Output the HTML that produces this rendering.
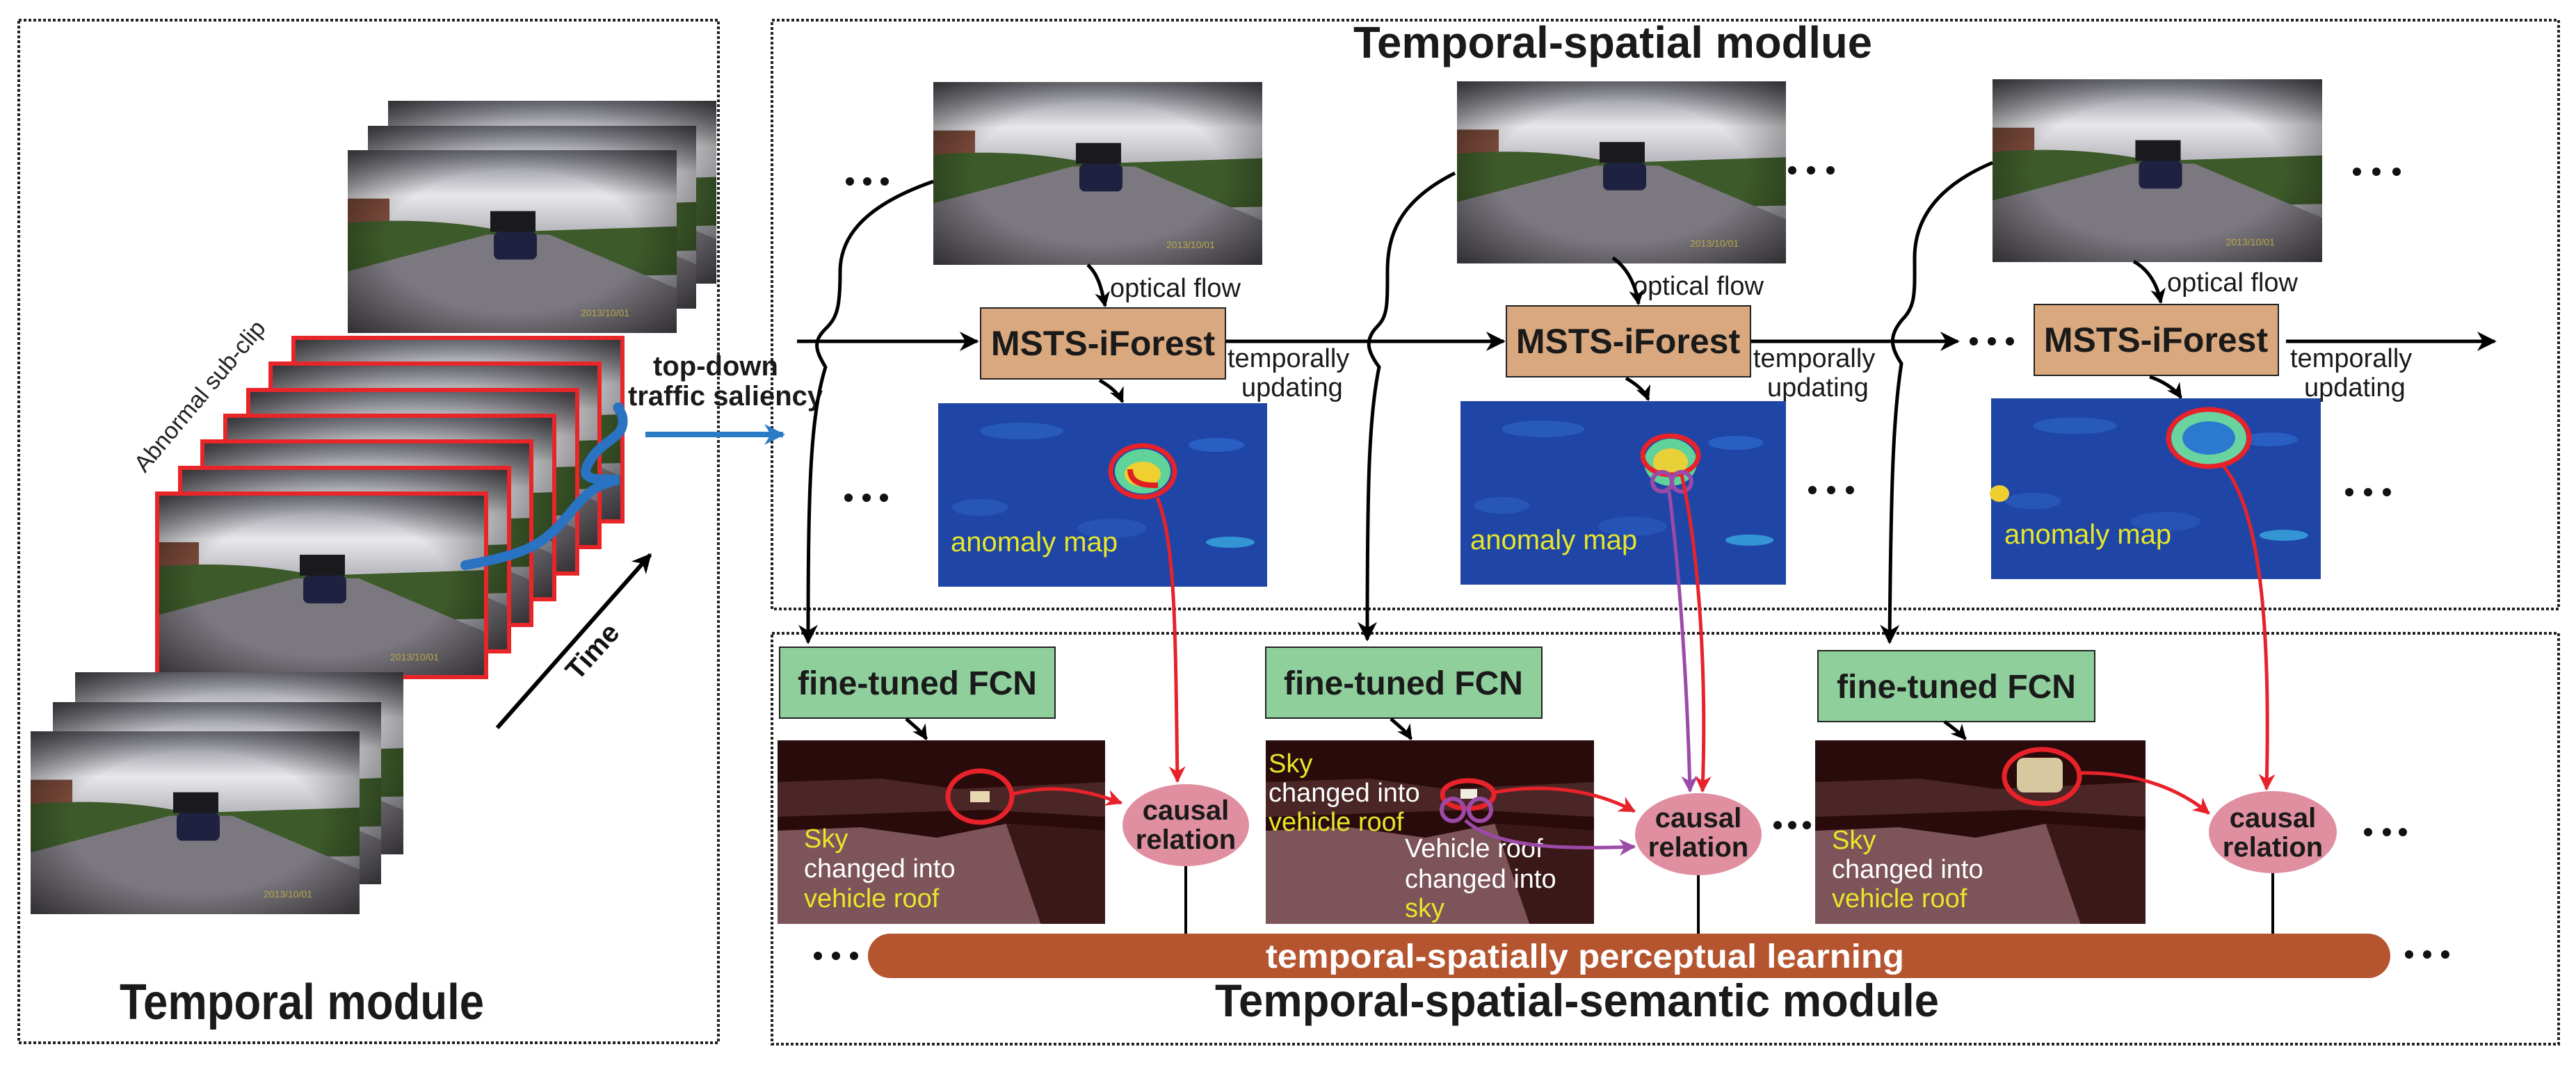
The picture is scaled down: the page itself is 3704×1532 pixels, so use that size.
<!DOCTYPE html>
<html><head><meta charset="utf-8"><style>
html,body{margin:0;padding:0;background:#fff;}
svg{display:block;}
text{font-family:"Liberation Sans",sans-serif;}
</style></head><body>
<svg width="3704" height="1532" viewBox="0 0 3704 1532" xmlns="http://www.w3.org/2000/svg">
<defs>
<linearGradient id="sky" x1="0" y1="0" x2="0" y2="1">
<stop offset="0" stop-color="#7a7a84"/><stop offset="0.25" stop-color="#e8e8ec"/><stop offset="0.42" stop-color="#bcbcc2"/><stop offset="1" stop-color="#8a8a90"/></linearGradient>
<radialGradient id="vig" cx="0.5" cy="0.5" r="0.7"><stop offset="0.55" stop-color="#000" stop-opacity="0"/><stop offset="1" stop-color="#000" stop-opacity="0.6"/></radialGradient>
<symbol id="frame" viewBox="0 0 473 264" preserveAspectRatio="none">
<rect width="473" height="264" fill="url(#sky)"/>
<rect x="0" y="70" width="60" height="45" fill="#7a4a3a"/>
<path d="M0 105 Q120 95 230 118 L473 110 L473 180 L0 190Z" fill="#3d5a2a"/>
<path d="M0 175 L200 122 L290 122 L473 200 L473 264 L0 264Z" fill="#7c7880"/>
<rect x="205" y="88" width="65" height="30" fill="#1a1a1e"/>
<rect x="210" y="118" width="62" height="40" rx="8" fill="#1e2240"/>
<rect x="0" y="0" width="473" height="264" fill="url(#vig)"/>
<text x="335" y="240" font-size="14" fill="#b8a84a">2013/10/01</text>
</symbol>
<symbol id="amap" viewBox="0 0 473 264" preserveAspectRatio="none">
<rect width="473" height="264" fill="#1f46a6"/>
<ellipse cx="120" cy="40" rx="60" ry="12" fill="#2b62c4" opacity="0.7"/>
<ellipse cx="400" cy="60" rx="40" ry="10" fill="#2e6ad0" opacity="0.7"/>
<ellipse cx="420" cy="200" rx="35" ry="8" fill="#39a9e0" opacity="0.8"/>
<ellipse cx="250" cy="180" rx="50" ry="14" fill="#2a58bc" opacity="0.7"/>
<ellipse cx="60" cy="150" rx="40" ry="12" fill="#2b5cbf" opacity="0.7"/>
</symbol>
<symbol id="seg" viewBox="0 0 473 264" preserveAspectRatio="none">
<rect width="473" height="264" fill="#2a0b0b"/>
<path d="M0 60 L150 55 L260 70 L473 60 L473 110 L300 100 L0 110Z" fill="#4a2626"/>
<path d="M0 130 L120 125 L230 140 L330 120 L473 130 L473 264 L0 264Z" fill="#7c545a"/>
<path d="M330 120 L473 130 L473 264 L380 264 Z" fill="#3a1818"/>
</symbol>
<marker id="ah" viewBox="0 0 10 10" refX="9" refY="5" markerWidth="26" markerHeight="22" orient="auto" markerUnits="userSpaceOnUse"><path d="M0 0 L10 5 L0 10 L3 5Z" fill="#000"/></marker>
<marker id="ahb" viewBox="0 0 10 10" refX="9" refY="5" markerWidth="36" markerHeight="28" orient="auto" markerUnits="userSpaceOnUse"><path d="M0 0 L10 5 L0 10 L3 5Z" fill="#000"/></marker>
<marker id="ahr" viewBox="0 0 10 10" refX="9" refY="5" markerWidth="30" markerHeight="24" orient="auto" markerUnits="userSpaceOnUse"><path d="M0 0 L10 5 L0 10 L3 5Z" fill="#e8222a"/></marker>
<marker id="ahp" viewBox="0 0 10 10" refX="9" refY="5" markerWidth="30" markerHeight="24" orient="auto" markerUnits="userSpaceOnUse"><path d="M0 0 L10 5 L0 10 L3 5Z" fill="#9c4aa8"/></marker>
<marker id="ahbl" viewBox="0 0 10 10" refX="9" refY="5" markerWidth="40" markerHeight="30" orient="auto" markerUnits="userSpaceOnUse"><path d="M0 0 L10 5 L0 10 L3 5Z" fill="#2a7cc4"/></marker>
</defs>

<rect x="27" y="29" width="1006" height="1471" fill="none" stroke="#222" stroke-width="4" stroke-dasharray="4,3"/>
<rect x="1110" y="29" width="2569" height="847" fill="none" stroke="#222" stroke-width="4" stroke-dasharray="4,3"/>
<rect x="1110" y="911" width="2569" height="591" fill="none" stroke="#222" stroke-width="4" stroke-dasharray="4,3"/>

<use href="#frame" x="558" y="145" width="472" height="263"/>
<use href="#frame" x="529" y="181" width="472" height="263"/>
<use href="#frame" x="500" y="216" width="473" height="263"/>
<use href="#frame" x="422" y="486" width="473" height="264"/><rect x="422" y="486" width="473" height="264" fill="none" stroke="#e8262a" stroke-width="6"/>
<use href="#frame" x="389" y="523" width="473" height="264"/><rect x="389" y="523" width="473" height="264" fill="none" stroke="#e8262a" stroke-width="6"/>
<use href="#frame" x="357" y="561" width="473" height="264"/><rect x="357" y="561" width="473" height="264" fill="none" stroke="#e8262a" stroke-width="6"/>
<use href="#frame" x="324" y="598" width="473" height="264"/><rect x="324" y="598" width="473" height="264" fill="none" stroke="#e8262a" stroke-width="6"/>
<use href="#frame" x="291" y="635" width="473" height="264"/><rect x="291" y="635" width="473" height="264" fill="none" stroke="#e8262a" stroke-width="6"/>
<use href="#frame" x="259" y="673" width="473" height="264"/><rect x="259" y="673" width="473" height="264" fill="none" stroke="#e8262a" stroke-width="6"/>
<use href="#frame" x="226" y="710" width="473" height="264"/><rect x="226" y="710" width="473" height="264" fill="none" stroke="#e8262a" stroke-width="6"/>
<use href="#frame" x="108" y="967" width="472" height="262"/>
<use href="#frame" x="76" y="1010" width="472" height="262"/>
<use href="#frame" x="44" y="1052" width="473" height="263"/>
<path d="M669 813 C740 800 770 790 800 760 C830 730 840 700 890 690 C850 690 830 690 850 660 C870 630 900 630 895 600 C893 590 885 585 890 586" fill="none" stroke="#2a72c2" stroke-width="14" stroke-linecap="round"/>
<line x1="928" y1="625" x2="1126" y2="625" stroke="#2a7cc4" stroke-width="8" marker-end="url(#ahbl)"/>
<text x="939" y="540" font-size="40" font-weight="bold" fill="#1a1a1a">top-down</text>
<text x="903" y="583" font-size="40" font-weight="bold" fill="#1a1a1a">traffic saliency</text>
<text x="296" y="577" font-size="34" fill="#222" text-anchor="middle" transform="rotate(-50 296 577)">Abnormal sub-clip</text>
<line x1="715" y1="1047" x2="935" y2="798" stroke="#000" stroke-width="6" marker-end="url(#ahb)"/>
<text x="853" y="950" font-size="40" font-weight="bold" fill="#111" text-anchor="middle" transform="rotate(-48 853 938)">Time</text>
<text x="172" y="1466" font-size="72" font-weight="bold" fill="#1a1a1a" textLength="524" lengthAdjust="spacingAndGlyphs">Temporal module</text>

<text x="1946" y="83" font-size="64" font-weight="bold" fill="#1a1a1a" textLength="746" lengthAdjust="spacingAndGlyphs">Temporal-spatial modlue</text>
<use href="#frame" x="1342" y="118" width="473" height="263"/>
<use href="#frame" x="2095" y="117" width="473" height="262"/>
<use href="#frame" x="2865" y="114" width="474" height="263"/>

<g fill="#111">
<circle cx="1222" cy="261" r="6"/><circle cx="1247" cy="261" r="6"/><circle cx="1272" cy="261" r="6"/>
<circle cx="2577" cy="245" r="6"/><circle cx="2604" cy="245" r="6"/><circle cx="2632" cy="245" r="6"/>
<circle cx="3389" cy="247" r="6"/><circle cx="3417" cy="247" r="6"/><circle cx="3446" cy="247" r="6"/>
<circle cx="1220" cy="716" r="6"/><circle cx="1246" cy="716" r="6"/><circle cx="1271" cy="716" r="6"/>
<circle cx="2606" cy="705" r="6"/><circle cx="2633" cy="705" r="6"/><circle cx="2660" cy="705" r="6"/>
<circle cx="3378" cy="708" r="6"/><circle cx="3405" cy="708" r="6"/><circle cx="3432" cy="708" r="6"/>
<circle cx="2838" cy="491" r="6"/><circle cx="2864" cy="491" r="6"/><circle cx="2890" cy="491" r="6"/>
<circle cx="2556" cy="1187" r="6"/><circle cx="2577" cy="1187" r="6"/><circle cx="2598" cy="1187" r="6"/>
<circle cx="3405" cy="1197" r="6"/><circle cx="3432" cy="1197" r="6"/><circle cx="3455" cy="1197" r="6"/>
<circle cx="1176" cy="1375" r="6"/><circle cx="1202" cy="1375" r="6"/><circle cx="1228" cy="1375" r="6"/>
<circle cx="3464" cy="1373" r="6"/><circle cx="3490" cy="1373" r="6"/><circle cx="3516" cy="1373" r="6"/>
</g>

<g stroke="#000" stroke-width="5" fill="none">
<line x1="1146" y1="491" x2="1405" y2="491" marker-end="url(#ahb)"/>
<line x1="1762" y1="491" x2="2162" y2="491" marker-end="url(#ahb)"/>
<line x1="2517" y1="491" x2="2815" y2="491" marker-end="url(#ahb)"/>
<line x1="3287" y1="491" x2="3587" y2="491" marker-end="url(#ahb)"/>
</g>

<g fill="#d9a87e" stroke="#222" stroke-width="2">
<rect x="1410" y="443" width="352" height="102"/>
<rect x="2166" y="440" width="351" height="102"/>
<rect x="2925" y="438" width="351" height="102"/>
</g>
<g font-size="50" font-weight="bold" fill="#1a1a1a" text-anchor="middle">
<text x="1586" y="511">MSTS-iForest</text>
<text x="2341" y="508">MSTS-iForest</text>
<text x="3100" y="506">MSTS-iForest</text>
</g>
<g font-size="38" fill="#1a1a1a">
<text x="1596" y="427">optical flow</text>
<text x="2348" y="424">optical flow</text>
<text x="3116" y="419">optical flow</text>
<text x="1765" y="528">temporally</text><text x="1785" y="570">updating</text>
<text x="2521" y="528">temporally</text><text x="2541" y="570">updating</text>
<text x="3293" y="528">temporally</text><text x="3313" y="570">updating</text>
</g>

<use href="#amap" x="1349" y="580" width="473" height="264"/>
<use href="#amap" x="2100" y="577" width="468" height="264"/>
<use href="#amap" x="2863" y="573" width="474" height="260"/>
<g>
<ellipse cx="1643" cy="678" rx="40" ry="32" fill="#5fd39a"/><ellipse cx="1643" cy="682" rx="26" ry="18" fill="#f0d030"/><path d="M1625 675 Q1625 700 1665 698" stroke="#e02020" stroke-width="8" fill="none"/>
<ellipse cx="2402" cy="665" rx="38" ry="34" fill="#5fd39a"/><ellipse cx="2402" cy="665" rx="25" ry="20" fill="#e8d038"/>
<ellipse cx="3176" cy="630" rx="54" ry="38" fill="#6ad4a0"/><ellipse cx="3176" cy="630" rx="38" ry="24" fill="#2c7ad0"/>
<ellipse cx="2875" cy="710" rx="14" ry="12" fill="#f0d030"/>
</g>
<g fill="none" stroke="#e8222a" stroke-width="7">
<ellipse cx="1643" cy="678" rx="46" ry="37"/>
<ellipse cx="2402" cy="655" rx="40" ry="28"/>
<ellipse cx="3176" cy="630" rx="58" ry="41"/>
</g>
<g fill="none" stroke="#9c4aa8" stroke-width="6"><circle cx="2390" cy="693" r="14"/><circle cx="2418" cy="693" r="14"/></g>
<g font-size="40" fill="#e6e62a">
<text x="1367" y="793">anomaly map</text>
<text x="2114" y="790">anomaly map</text>
<text x="2882" y="782">anomaly map</text>
</g>

<g fill="#8fcf9c" stroke="#222" stroke-width="2">
<rect x="1121" y="931" width="396" height="102"/>
<rect x="1820" y="931" width="397" height="102"/>
<rect x="2614" y="936" width="398" height="102"/>
</g>
<g font-size="48" font-weight="bold" fill="#1a1a1a" text-anchor="middle">
<text x="1319" y="999">fine-tuned FCN</text>
<text x="2018" y="999">fine-tuned FCN</text>
<text x="2813" y="1004">fine-tuned FCN</text>
</g>
<use href="#seg" x="1118" y="1065" width="471" height="264"/>
<use href="#seg" x="1820" y="1065" width="472" height="264"/>
<use href="#seg" x="2610" y="1065" width="475" height="264"/>
<rect x="1395" y="1138" width="28" height="16" fill="#e8d8b0"/>
<rect x="2100" y="1135" width="24" height="14" fill="#f0ece0"/>
<rect x="2900" y="1090" width="66" height="50" rx="10" fill="#d8c8a0"/>
<g fill="none" stroke="#e8222a" stroke-width="7">
<ellipse cx="1409" cy="1146" rx="46" ry="37"/>
<ellipse cx="2111" cy="1143" rx="37" ry="20"/>
<ellipse cx="2936" cy="1117" rx="54" ry="39"/>
</g>
<g fill="none" stroke="#9c4aa8" stroke-width="6"><circle cx="2089" cy="1165" r="16"/><circle cx="2128" cy="1165" r="16"/></g>

<g font-size="38">
<text x="1156" y="1219" fill="#e6e62a">Sky</text>
<text x="1156" y="1262" fill="#fff">changed into</text>
<text x="1156" y="1305" fill="#e6e62a">vehicle roof</text>
<text x="1824" y="1111" fill="#e6e62a">Sky</text>
<text x="1824" y="1153" fill="#fff">changed into</text>
<text x="1824" y="1195" fill="#e6e62a">vehicle roof</text>
<text x="2020" y="1233" fill="#fff">Vehicle roof</text>
<text x="2020" y="1277" fill="#fff">changed into</text>
<text x="2020" y="1319" fill="#e6e62a">sky</text>
<text x="2634" y="1221" fill="#e6e62a">Sky</text>
<text x="2634" y="1263" fill="#fff">changed into</text>
<text x="2634" y="1305" fill="#e6e62a">vehicle roof</text>
</g>

<g fill="#df8f9f">
<ellipse cx="1705" cy="1187" rx="91" ry="59"/>
<ellipse cx="2442" cy="1200" rx="91" ry="59"/>
<ellipse cx="3268" cy="1197" rx="92" ry="59"/>
</g>
<g font-size="40" font-weight="bold" fill="#1a1a1a" text-anchor="middle">
<text x="1705" y="1179">causal</text><text x="1705" y="1221">relation</text>
<text x="2442" y="1190">causal</text><text x="2442" y="1232">relation</text>
<text x="3268" y="1190">causal</text><text x="3268" y="1232">relation</text>
</g>
<g stroke="#000" stroke-width="4">
<line x1="1705" y1="1246" x2="1705" y2="1343"/>
<line x1="2442" y1="1259" x2="2442" y2="1343"/>
<line x1="3268" y1="1256" x2="3268" y2="1343"/>
</g>
<rect x="1248" y="1343" width="2189" height="64" rx="32" fill="#b5552f"/>
<text x="2279" y="1392" font-size="48" font-weight="bold" fill="#fff" text-anchor="middle" textLength="918" lengthAdjust="spacingAndGlyphs">temporal-spatially perceptual learning</text>
<text x="1747" y="1462" font-size="66" font-weight="bold" fill="#1a1a1a" textLength="1041" lengthAdjust="spacingAndGlyphs">Temporal-spatial-semantic module</text>

<g fill="none" stroke="#e8222a" stroke-width="5">
<path d="M1664 716 C1690 780 1690 900 1693 1124" marker-end="url(#ahr)"/>
<path d="M1453 1143 C1520 1125 1570 1140 1612 1155" marker-end="url(#ahr)"/>
<path d="M2418 683 C2440 780 2455 950 2448 1138" marker-end="url(#ahr)"/>
<path d="M2148 1140 C2230 1125 2300 1140 2350 1167" marker-end="url(#ahr)"/>
<path d="M3195 668 C3250 730 3265 900 3259 1135" marker-end="url(#ahr)"/>
<path d="M2990 1112 C3080 1110 3140 1140 3176 1170" marker-end="url(#ahr)"/>
</g>
<g fill="none" stroke="#9c4aa8" stroke-width="5">
<path d="M2400 707 C2412 800 2425 950 2430 1138" marker-end="url(#ahp)"/>
<path d="M2107 1180 C2150 1220 2250 1222 2350 1218" marker-end="url(#ahp)"/>
</g>

<g fill="none" stroke="#000" stroke-width="5">
<path d="M1342 261 C1230 300 1208 350 1208 391 C1208 440 1204 455 1190 470 C1170 489 1170 500 1187 528 C1165 600 1162 700 1162 924" marker-end="url(#ahb)"/>
<path d="M2092 249 C2010 290 1995 340 1995 391 C1995 440 1995 455 1980 470 C1962 489 1966 505 1983 528 C1968 600 1966 700 1966 920" marker-end="url(#ahb)"/>
<path d="M2865 234 C2780 270 2753 320 2753 371 C2753 420 2755 440 2735 460 C2715 484 2719 500 2734 523 C2722 600 2719 700 2717 924" marker-end="url(#ahb)"/>
<path d="M1564 381 C1580 395 1585 420 1589 440" marker-end="url(#ah)"/>
<path d="M2319 371 C2340 385 2352 410 2356 437" marker-end="url(#ah)"/>
<path d="M3068 376 C3090 388 3102 410 3107 435" marker-end="url(#ah)"/>
<path d="M1581 547 C1595 555 1608 565 1614 578" marker-end="url(#ah)"/>
<path d="M2338 544 C2352 552 2365 562 2370 575" marker-end="url(#ah)"/>
<path d="M3091 542 C3110 548 3128 560 3136 572" marker-end="url(#ah)"/>
<path d="M1303 1034 C1315 1045 1325 1052 1332 1063" marker-end="url(#ah)"/>
<path d="M2000 1034 C2012 1045 2022 1052 2029 1063" marker-end="url(#ah)"/>
<path d="M2796 1038 C2808 1047 2818 1054 2826 1063" marker-end="url(#ah)"/>
</g>
</svg>
</body></html>
